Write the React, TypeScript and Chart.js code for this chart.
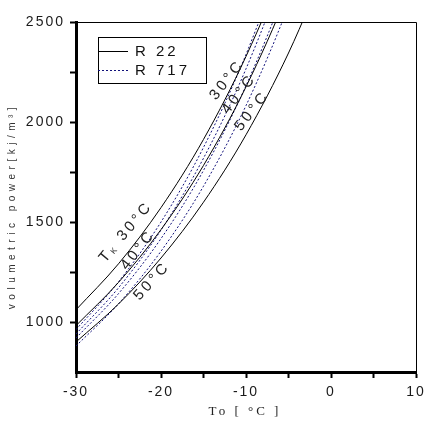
import React, { useEffect, useRef } from 'react';
import { Chart, registerables } from 'chart.js';
Chart.register(...registerables);

// Evaporation temperature To [°C]
const toValues = [-30, -25, -20, -15, -10, -5, 0];
// R 22 (solid) at condensing temperatures 30, 40, 50 °C
const r22Tk30 = [1061, 1291, 1572, 1913, 2328, 2834, 3449];
const r22Tk40 = [982, 1198, 1462, 1783, 2176, 2655, 3239];
const r22Tk50 = [900, 1090, 1320, 1599, 1936, 2345, 2840];
// R 717 (dotted)
const r717A = [962, 1201, 1500, 1873, 2338, 2920, 3646];
const r717B = [940, 1171, 1460, 1819, 2266, 2824, 3519];
const r717C = [920, 1142, 1417, 1758, 2182, 2707, 3359];
const r717D = [880, 1091, 1354, 1679, 2082, 2582, 3202];

const xLabelTicks = [-30, -20, -10, 0, 10];
const yLabelTicks = [1000, 1500, 2000, 2500];

const legendLabels = ['R 22', 'R 717'];
const yTitle = 'volumetric power[kj/m³]';
const xTitle = 'To [ °C ]';

const SANS = "'Liberation Sans', Arial, sans-serif";
const SERIF = "'Liberation Serif', 'Times New Roman', serif";
const R717_COLOR = '#10107a';

const pts = (ys: number[]) => toValues.map((x, i) => ({ x, y: ys[i] }));

export default function App() {
  const ref = useRef<HTMLCanvasElement>(null);
  useEffect(() => {
    document.body.style.margin = '0';
    const canvas = ref.current!;
    const solid = (data: number[]) => ({
      data: pts(data),
      borderColor: '#000',
      borderWidth: 1,
      pointRadius: 0,
      cubicInterpolationMode: 'monotone' as const,
    });
    const dotted = (data: number[]) => ({
      data: pts(data),
      borderColor: R717_COLOR,
      borderWidth: 1,
      borderDash: [2, 2],
      pointRadius: 0,
      cubicInterpolationMode: 'monotone' as const,
    });

    const drawRotated = (ctx: CanvasRenderingContext2D, parts: { t: string; size: number; dy?: number }[], cx: number, cy: number, angle: number, spacing: number) => {
      ctx.save();
      ctx.translate(cx, cy);
      ctx.rotate((angle * Math.PI) / 180);
      (ctx as any).letterSpacing = spacing + 'px';
      ctx.textBaseline = 'middle';
      ctx.textAlign = 'left';
      let total = 0;
      const widths = parts.map((p) => {
        ctx.font = `${p.size}px ${SANS}`;
        const w = ctx.measureText(p.t).width;
        total += w;
        return w;
      });
      let x = -total / 2;
      parts.forEach((p, i) => {
        ctx.font = `${p.size}px ${SANS}`;
        ctx.fillText(p.t, x, p.dy || 0);
        x += widths[i];
      });
      ctx.restore();
    };

    const deco = {
      id: 'deco',
      beforeDraw(chart: any) {
        chart.ctx.letterSpacing = '2px';
      },
      afterDraw(chart: any) {
        const ctx: CanvasRenderingContext2D = chart.ctx;
        const a = chart.chartArea;
        ctx.save();
        (ctx as any).letterSpacing = '0px';
        // thin top & right frame
        ctx.strokeStyle = '#000';
        ctx.lineWidth = 1;
        ctx.beginPath();
        ctx.moveTo(Math.round(a.left), Math.round(a.top) + 0.5);
        ctx.lineTo(Math.round(a.right) + 0.5, Math.round(a.top) + 0.5);
        ctx.lineTo(Math.round(a.right) + 0.5, Math.round(a.bottom));
        ctx.stroke();

        // legend
        ctx.strokeRect(98.5, 37.5, 108, 46);
        ctx.beginPath();
        ctx.moveTo(98, 51.5);
        ctx.lineTo(128, 51.5);
        ctx.stroke();
        ctx.save();
        ctx.strokeStyle = R717_COLOR;
        ctx.setLineDash([2, 2]);
        ctx.beginPath();
        ctx.moveTo(98, 70.5);
        ctx.lineTo(128, 70.5);
        ctx.stroke();
        ctx.restore();
        ctx.fillStyle = '#111';
        ctx.font = `15px ${SANS}`;
        (ctx as any).letterSpacing = '3px';
        ctx.textAlign = 'left';
        ctx.textBaseline = 'middle';
        ctx.fillText(legendLabels[0], 135, 52);
        ctx.fillText(legendLabels[1], 135, 71);

        // axis titles
        ctx.save();
        ctx.translate(12, 208);
        ctx.rotate(-Math.PI / 2);
        ctx.font = `10px ${SANS}`;
        (ctx as any).letterSpacing = '4.5px';
        ctx.textAlign = 'center';
        ctx.fillStyle = '#333';
        ctx.fillText(yTitle, 2, 0);
        ctx.restore();

        ctx.font = `13px ${SERIF}`;
        (ctx as any).letterSpacing = '3px';
        ctx.textAlign = 'center';
        ctx.fillStyle = '#222';
        ctx.fillText(xTitle, 245, 412);

        // curve annotations
        ctx.fillStyle = '#222';
        drawRotated(ctx, [{ t: '30°C', size: 15 }], 227, 80, -52, 3.2);
        drawRotated(ctx, [{ t: '40°C', size: 15 }], 239, 94, -52, 3.2);
        drawRotated(ctx, [{ t: '50°C', size: 15 }], 252, 111, -52, 3.2);
        drawRotated(ctx, [{ t: 'T', size: 15 }, { t: 'K', size: 8, dy: 3 }, { t: ' 30°C', size: 15 }], 126, 232, -50, 3.2);
        drawRotated(ctx, [{ t: '40°C', size: 15 }], 138, 250, -52, 3.2);
        drawRotated(ctx, [{ t: '50°C', size: 15 }], 152, 281, -48, 3.2);
        ctx.restore();
      },
    };

    const chart = new Chart(canvas, {
      type: 'line',
      data: {
        datasets: [
          solid(r22Tk30),
          solid(r22Tk40),
          solid(r22Tk50),
          dotted(r717A),
          dotted(r717B),
          dotted(r717C),
          dotted(r717D),
        ],
      },
      options: {
        animation: false,
        responsive: false,
        devicePixelRatio: 1,
        layout: { padding: { left: 0, top: 22, right: 23, bottom: 0 } },
        plugins: { legend: { display: false }, tooltip: { enabled: false } },
        scales: {
          x: {
            type: 'linear',
            min: -30,
            max: 10,
            afterFit: (s: any) => {
              s.height = 62;
            },
            border: { display: true, color: '#000', width: 3 },
            grid: { drawOnChartArea: false, drawTicks: true, tickLength: 6, tickWidth: 2, tickColor: '#000' },
            ticks: {
              stepSize: 5,
              padding: 6,
              color: '#1a1a1a',
              font: { family: SANS, size: 14 },
              maxRotation: 0,
              callback: (v: any) => (xLabelTicks.includes(Number(v)) ? String(v) : ''),
            },
          },
          y: {
            type: 'linear',
            min: 750,
            max: 2500,
            afterFit: (s: any) => {
              s.width = 76;
            },
            border: { display: true, color: '#000', width: 3 },
            grid: { drawOnChartArea: false, drawTicks: true, tickLength: 6, tickWidth: 2, tickColor: '#000' },
            ticks: {
              stepSize: 250,
              padding: 5,
              color: '#1a1a1a',
              font: { family: SANS, size: 14 },
              callback: (v: any) => {
                const n = Number(v);
                if (n === 750) return null;
                return yLabelTicks.includes(n) ? String(n) : '';
              },
            },
          },
        },
      },
      plugins: [deco],
    } as any);
    return () => chart.destroy();
  }, []);
  return (
    <div style={{ width: 439, height: 434 }}>
      <canvas ref={ref} width={439} height={434} style={{ display: 'block', width: 439, height: 434 }} />
    </div>
  );
}
